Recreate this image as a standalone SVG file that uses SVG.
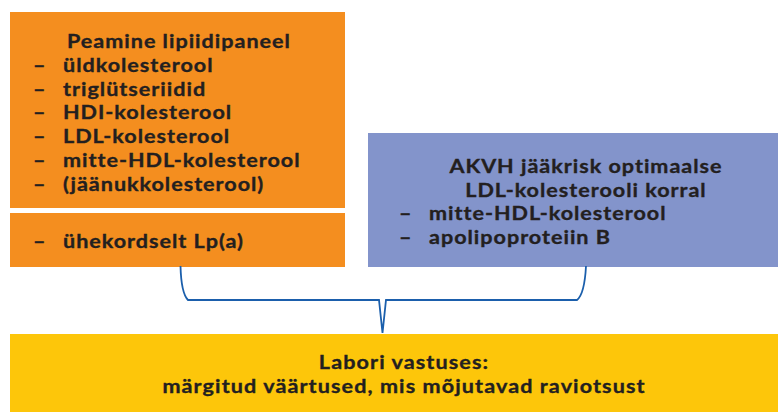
<svg xmlns="http://www.w3.org/2000/svg" width="778" height="412" viewBox="0 0 778 412">
<style>
text{font-family:Lato,"Open Sans","Liberation Sans",sans-serif;font-weight:700;fill:#231f20;stroke:#231f20;stroke-width:0.35px;font-size:19.6px;letter-spacing:0.9px}
.c{text-anchor:middle}
.y{letter-spacing:1px}
.con{fill:none;stroke:#1b5fac;stroke-width:1.8;stroke-linejoin:miter}
</style>
<rect width="778" height="412" fill="#ffffff"/>
<g id="lipid-panel">
<rect x="10" y="12" width="335" height="196" fill="#f48e1f"/>
<rect x="10" y="213" width="335" height="54" fill="#f48e1f"/>
<g transform="scale(1.1,1)">
<text><tspan x="60.91" y="48">Peamine lipiidipaneel</tspan><tspan x="30" y="71.8">–</tspan><tspan x="57.27" y="71.8">üldkolesterool</tspan><tspan x="30" y="95.6">–</tspan><tspan x="57.27" y="95.6">triglütseriidid</tspan><tspan x="30" y="119.4">–</tspan><tspan x="57.27" y="119.4">HDI-kolesterool</tspan><tspan x="30" y="143.2">–</tspan><tspan x="57.27" y="143.2">LDL-kolesterool</tspan><tspan x="30" y="167">–</tspan><tspan x="57.27" y="167">mitte-HDL-kolesterool</tspan><tspan x="30" y="190.8">–</tspan><tspan x="57.27" y="190.8">(jäänukkolesterool)</tspan></text>
<text><tspan x="30" y="248">–</tspan><tspan x="57.27" y="248">ühekordselt Lp(a)</tspan></text>
</g>
</g>
<g id="residual-risk">
<rect x="368" y="133" width="412" height="134" fill="#8394cb"/>
<g transform="scale(1.1,1)">
<text><tspan class="c" x="532.73" y="173">AKVH jääkrisk optimaalse</tspan><tspan class="c" x="532.73" y="196.7">LDL-kolesterooli korral</tspan><tspan x="362.73" y="220.4">–</tspan><tspan x="390" y="220.4">mitte-HDL-kolesterool</tspan><tspan x="362.73" y="244.1">–</tspan><tspan x="390" y="244.1">apolipoproteiin B</tspan></text>
</g>
</g>
<g id="lab-report">
<rect x="10" y="334" width="770" height="80" fill="#fdc60a"/>
<g transform="scale(1.1,1)">
<text class="c y"><tspan x="367.27" y="369.5">Labori vastuses:</tspan><tspan x="367.27" y="393.2">märgitud väärtused, mis mõjutavad raviotsust</tspan></text>
</g>
</g>
<g id="connectors">
<path class="con" d="M180.5,266 C181,285 183,295 188,300 L379,300 L382.5,333 L386,300 L577,300 C582,296 585,285 586,266"/>
</g>
</svg>
